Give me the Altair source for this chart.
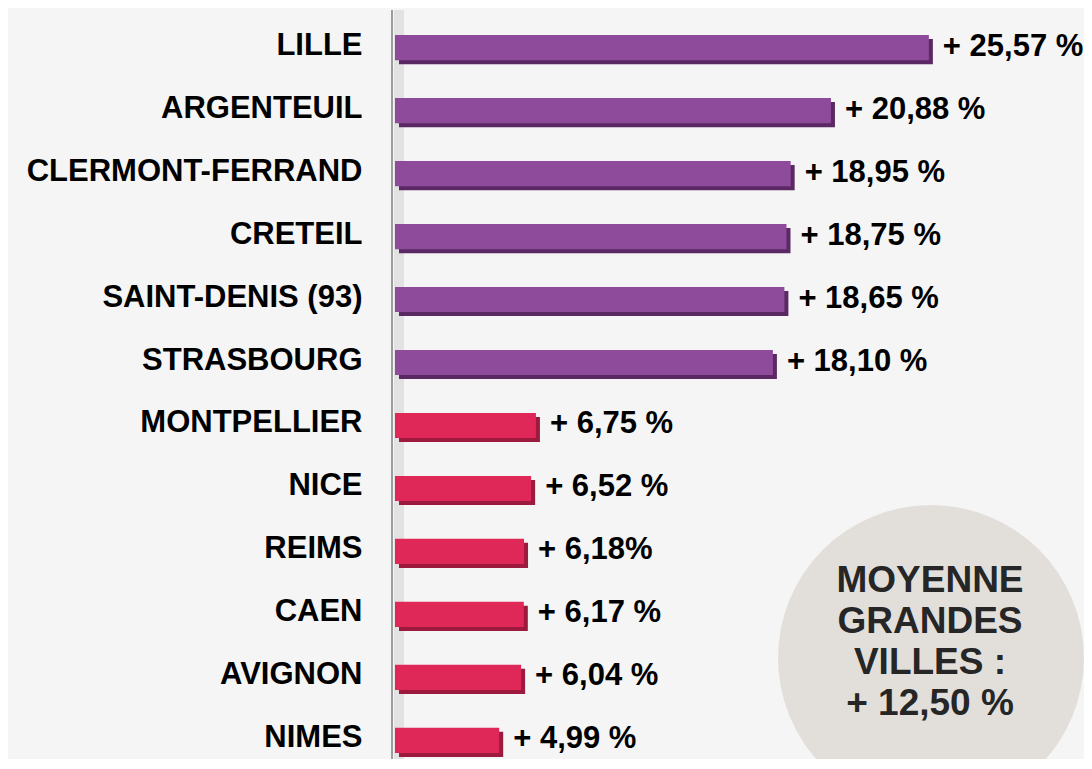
import altair as alt
import pandas as pd

cities = ["LILLE", "ARGENTEUIL", "CLERMONT-FERRAND", "CRETEIL", "SAINT-DENIS (93)",
          "STRASBOURG", "MONTPELLIER", "NICE", "REIMS", "CAEN", "AVIGNON", "NIMES"]
values = [25.57, 20.88, 18.95, 18.75, 18.65, 18.10, 6.75, 6.52, 6.18, 6.17, 6.04, 4.99]
value_labels = ["+ 25,57 %", "+ 20,88 %", "+ 18,95 %", "+ 18,75 %", "+ 18,65 %", "+ 18,10 %",
                "+ 6,75 %", "+ 6,52 %", "+ 6,18%", "+ 6,17 %", "+ 6,04 %", "+ 4,99 %"]
groups = ["haut", "haut", "haut", "haut", "haut", "haut",
          "bas", "bas", "bas", "bas", "bas", "bas"]
avg_lines = ["MOYENNE", "GRANDES", "VILLES :", "+ 12,50 %"]
avg_value = [12.50]

df = pd.DataFrame({"city": cities, "value": values, "label": value_labels, "group": groups})

FONT = "Liberation Sans"
W, H = 689, 718

x = alt.X("value:Q", scale=alt.Scale(domain=[0, 33], nice=False, zero=True), axis=None)
y = alt.Y("city:N", sort=cities,
          scale=alt.Scale(paddingInner=0.6, paddingOuter=0),
          axis=alt.Axis(title=None, domain=False, ticks=False, grid=False,
                        labelFont=FONT, labelFontSize=31, labelFontWeight="bold",
                        labelColor="#000000", labelPadding=33, labelLimit=500,
                        labelOffset=-2))

one = pd.DataFrame({"v": avg_value})

shade = alt.Chart(one).mark_rule(color="#e2e2e2", strokeWidth=10).encode(
    x=alt.value(4), y=alt.value(-25), y2=alt.value(H + 30))
axis_line = alt.Chart(one).mark_rule(color="#9c9c9c", strokeWidth=2).encode(
    x=alt.value(-3), y=alt.value(-25), y2=alt.value(H + 30))

shadow = alt.Chart(df).mark_bar(xOffset=4, yOffset=4).encode(
    x=x, y=y,
    color=alt.Color("group:N", scale=alt.Scale(domain=["haut", "bas"], range=["#5a2862", "#9c1a3e"]), legend=None))
main = alt.Chart(df).mark_bar().encode(
    x=x, y=y,
    color=alt.Color("group:N", scale=alt.Scale(domain=["haut", "bas"], range=["#8f4b9b", "#e02858"]), legend=None))
labels = alt.Chart(df).mark_text(align="left", baseline="middle", dx=14, dy=-1, font=FONT, fontSize=31,
                                 fontWeight="bold", color="#000000").encode(x=x, y=y, text="label:N")

circle = alt.Chart(one).mark_circle(size=93600, color="#e2dfdb", opacity=1).encode(
    x=alt.value(536), y=alt.value(623))
circle_text = alt.Chart(one).mark_text(text=avg_lines, lineHeight=41, align="center", baseline="middle",
                                       font=FONT, fontSize=37, fontWeight="bold", color="#262626").encode(
    x=alt.value(535), y=alt.value(546))

chart = alt.layer(shade, axis_line, circle, circle_text, shadow, main, labels).resolve_scale(
    color="independent"
).properties(
    width=W, height=H, autosize="none",
    padding={"left": 387, "top": 27, "right": 0, "bottom": 6},
    background="#f5f5f5"
).configure_view(stroke=None)

chart.save("out.html", embed_options={"renderer": "svg", "actions": False})
